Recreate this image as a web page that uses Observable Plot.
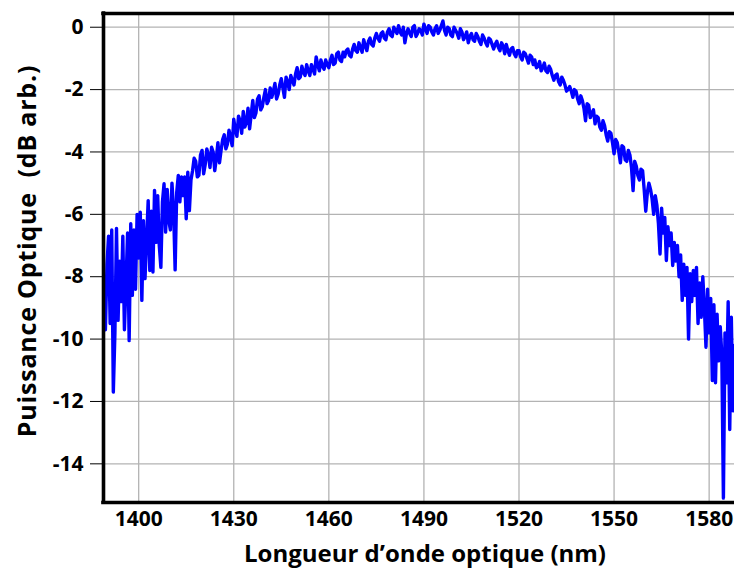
<!DOCTYPE html>
<html>
<head>
<meta charset="utf-8">
<script src="https://cdn.jsdelivr.net/npm/d3@7"></script>
<script src="https://cdn.jsdelivr.net/npm/@observablehq/plot@0.6"></script>
<style>
  html, body { margin: 0; padding: 0; background: white; overflow: hidden; }
</style>
</head>
<body>
<div id="chart"></div>
<script>
// Wavelength (nm) and optical power (dB arb.)
const wavelengths = [
  1388.0,1388.5,1389.0,1389.5,1390.0,1390.5,1391.0,1391.5,1392.0,1392.5,
  1393.0,1393.5,1394.0,1394.5,1395.0,1395.5,1396.0,1396.5,1397.0,1397.5,
  1398.0,1398.5,1399.0,1399.5,1400.0,1400.5,1401.0,1401.5,1402.0,1402.5,
  1403.0,1403.5,1404.0,1404.5,1405.0,1405.5,1406.0,1406.5,1407.0,1407.5,
  1408.0,1408.5,1409.0,1409.5,1410.0,1410.5,1411.0,1411.5,1412.0,1412.5,
  1413.0,1413.5,1414.0,1414.5,1415.0,1415.5,1416.0,1416.5,1417.0,1417.5,
  1418.0,1418.5,1419.0,1419.5,1420.0,1420.5,1421.0,1421.5,1422.0,1422.5,
  1423.0,1423.5,1424.0,1424.5,1425.0,1425.5,1426.0,1426.5,1427.0,1427.5,
  1428.0,1428.5,1429.0,1429.5,1430.0,1430.5,1431.0,1431.5,1432.0,1432.5,
  1433.0,1433.5,1434.0,1434.5,1435.0,1435.5,1436.0,1436.5,1437.0,1437.5,
  1438.0,1438.5,1439.0,1439.5,1440.0,1440.5,1441.0,1441.5,1442.0,1442.5,
  1443.0,1443.5,1444.0,1444.5,1445.0,1445.5,1446.0,1446.5,1447.0,1447.5,
  1448.0,1448.5,1449.0,1449.5,1450.0,1450.5,1451.0,1451.5,1452.0,1452.5,
  1453.0,1453.5,1454.0,1454.5,1455.0,1455.5,1456.0,1456.5,1457.0,1457.5,
  1458.0,1458.5,1459.0,1459.5,1460.0,1460.5,1461.0,1461.5,1462.0,1462.5,
  1463.0,1463.5,1464.0,1464.5,1465.0,1465.5,1466.0,1466.5,1467.0,1467.5,
  1468.0,1468.5,1469.0,1469.5,1470.0,1470.5,1471.0,1471.5,1472.0,1472.5,
  1473.0,1473.5,1474.0,1474.5,1475.0,1475.5,1476.0,1476.5,1477.0,1477.5,
  1478.0,1478.5,1479.0,1479.5,1480.0,1480.5,1481.0,1481.5,1482.0,1482.5,
  1483.0,1483.5,1484.0,1484.5,1485.0,1485.5,1486.0,1486.5,1487.0,1487.5,
  1488.0,1488.5,1489.0,1489.5,1490.0,1490.5,1491.0,1491.5,1492.0,1492.5,
  1493.0,1493.5,1494.0,1494.5,1495.0,1495.5,1496.0,1496.5,1497.0,1497.5,
  1498.0,1498.5,1499.0,1499.5,1500.0,1500.5,1501.0,1501.5,1502.0,1502.5,
  1503.0,1503.5,1504.0,1504.5,1505.0,1505.5,1506.0,1506.5,1507.0,1507.5,
  1508.0,1508.5,1509.0,1509.5,1510.0,1510.5,1511.0,1511.5,1512.0,1512.5,
  1513.0,1513.5,1514.0,1514.5,1515.0,1515.5,1516.0,1516.5,1517.0,1517.5,
  1518.0,1518.5,1519.0,1519.5,1520.0,1520.5,1521.0,1521.5,1522.0,1522.5,
  1523.0,1523.5,1524.0,1524.5,1525.0,1525.5,1526.0,1526.5,1527.0,1527.5,
  1528.0,1528.5,1529.0,1529.5,1530.0,1530.5,1531.0,1531.5,1532.0,1532.5,
  1533.0,1533.5,1534.0,1534.5,1535.0,1535.5,1536.0,1536.5,1537.0,1537.5,
  1538.0,1538.5,1539.0,1539.5,1540.0,1540.5,1541.0,1541.5,1542.0,1542.5,
  1543.0,1543.5,1544.0,1544.5,1545.0,1545.5,1546.0,1546.5,1547.0,1547.5,
  1548.0,1548.5,1549.0,1549.5,1550.0,1550.5,1551.0,1551.5,1552.0,1552.5,
  1553.0,1553.5,1554.0,1554.5,1555.0,1555.5,1556.0,1556.5,1557.0,1557.5,
  1558.0,1558.5,1559.0,1559.5,1560.0,1560.5,1561.0,1561.5,1562.0,1562.5,
  1563.0,1563.5,1564.0,1564.5,1565.0,1565.5,1566.0,1566.5,1567.0,1567.5,
  1568.0,1568.5,1569.0,1569.5,1570.0,1570.5,1571.0,1571.5,1572.0,1572.5,
  1573.0,1573.5,1574.0,1574.5,1575.0,1575.5,1576.0,1576.5,1577.0,1577.5,
  1578.0,1578.5,1579.0,1579.5,1580.0,1580.5,1581.0,1581.5,1582.0,1582.5,
  1583.0,1583.5,1584.0,1584.5,1585.0,1585.5,1586.0,1586.5,1587.0,1587.5,
  1588.0
];
const power = [
  // 1388.0 - 1416.0
  -8.3,-9.2,-8.2,-9.7,-7.6,-6.7,-9.5,-6.5,-11.7,-9.8,
  -6.45,-9.4,-7.5,-8.8,-6.7,-9.7,-8.2,-6.6,-10.05,-6.3,
  -8.6,-6.5,-8.4,-6.0,-7.4,-5.93,-8.76,-6.2,-8.06,-6.8,
  -5.56,-7.8,-5.9,-7.85,-5.23,-6.9,-5.4,-7.0,-7.7,-5.6,
  -5.02,-6.57,-5.2,-6.2,-6.5,-5.0,-5.8,-7.78,-5.3,-4.75,
  -5.6,-4.8,-5.4,-4.8,-6.14,-4.65,-5.88,
  // 1416.5 - 1564.0
  -4.9,-4.6,-4.2,-4.3,-4.8,-4.75,-4.1,-3.95,-4.7,-4.4,
  -3.9,-4.1,-4.5,-3.85,-4.0,-4.6,-4.2,-3.7,-4.35,-3.95,
  -3.6,-3.45,-3.9,-3.75,-3.3,-3.55,-3.8,-2.95,-3.3,-3.5,
  -2.85,-3.0,-3.4,-2.7,-3.2,-3.05,-2.6,-3.26,-2.8,-2.35,
  -2.9,-2.75,-2.3,-2.2,-2.65,-2.55,-2.25,-2.0,-2.45,-2.35,
  -1.95,-2.25,-2.05,-1.8,-2.3,-2.15,-1.85,-1.65,-1.95,-2.25,
  -1.6,-1.75,-2.0,-1.55,-1.7,-1.85,-1.5,-1.3,-1.65,-1.6,
  -1.25,-1.45,-1.55,-1.2,-1.4,-1.55,-1.2,-1.35,-1.5,-0.95,
  -1.2,-1.4,-1.05,-1.25,-1.35,-1.05,-1.2,-1.3,-1.05,-0.9,
  -1.2,-1.15,-0.85,-0.8,-1.05,-1.1,-0.8,-0.95,-0.75,-0.7,
  -0.9,-0.95,-0.7,-0.55,-0.75,-0.8,-0.5,-0.65,-0.8,-0.4,
  -0.6,-0.75,-0.45,-0.35,-0.55,-0.6,-0.35,-0.2,-0.35,-0.45,
  -0.2,-0.15,-0.35,-0.4,-0.15,-0.05,-0.25,-0.3,0.0,-0.1,
  -0.2,0.05,-0.15,-0.25,0.0,-0.5,-0.2,-0.05,-0.2,-0.3,
  0.0,0.05,-0.3,-0.2,-0.05,-0.1,-0.25,0.1,-0.05,-0.2,
  0.05,0.0,-0.15,-0.25,-0.05,0.05,-0.2,-0.1,0.05,0.2,
  -0.1,-0.25,0.0,-0.05,-0.25,-0.3,0.0,-0.1,-0.2,-0.35,
  -0.05,-0.15,-0.4,-0.3,-0.15,-0.5,-0.3,-0.2,-0.4,-0.45,
  -0.2,-0.3,-0.45,-0.55,-0.25,-0.35,-0.5,-0.6,-0.35,-0.4,
  -0.55,-0.7,-0.55,-0.45,-0.65,-0.75,-0.5,-0.6,-0.85,-0.55,
  -0.75,-0.9,-0.7,-0.65,-0.85,-0.95,-0.75,-0.75,-0.95,-1.05,
  -0.8,-0.85,-1.0,-1.15,-0.9,-0.95,-1.2,-1.05,-1.3,-1.25,
  -1.1,-1.4,-1.3,-1.15,-1.4,-1.45,-1.25,-1.35,-1.55,-1.7,
  -1.55,-1.5,-1.75,-1.85,-1.6,-1.7,-1.85,-2.05,-2.0,-1.9,
  -2.05,-2.25,-2.0,-2.05,-2.3,-2.45,-2.2,-2.35,-2.6,-3.0,
  -2.45,-2.5,-2.9,-2.75,-2.65,-3.1,-2.85,-2.9,-3.2,-3.3,
  -3.0,-3.15,-3.45,-3.65,-3.35,-3.4,-3.7,-4.06,-3.6,-3.7,
  -4.0,-4.35,-3.8,-3.85,-4.25,-4.3,-3.95,-4.1,-4.5,-5.24,
  -4.3,-4.45,-4.75,-4.9,-4.55,-4.6,-5.2,-5.9,-5.3,-5.0,
  -5.2,-5.5,-6.0,-5.4,-5.7,-6.3,
  // 1564.5 - 1588.0
  -7.27,-5.8,-6.6,-6.1,-7.48,-6.4,-7.0,-6.6,-7.64,-6.9,
  -7.5,-7.0,-8.0,-7.3,-8.76,-7.6,-8.6,-7.7,-10.0,-7.9,
  -8.8,-7.8,-8.6,-7.7,-9.5,-8.2,-9.3,-8.0,-9.0,-10.26,
  -8.4,-9.8,-8.7,-11.33,-8.9,-11.4,-9.2,-10.7,-9.6,-10.5,
  -15.1,-9.8,-11.4,-8.8,-12.9,-9.3,-12.3,-10.2
];
const xTicks = [1400, 1430, 1460, 1490, 1520, 1550, 1580];
const yTicks = [0, -2, -4, -6, -8, -10, -12, -14];
const xTitle = "Longueur d’onde optique (nm)";
const yTitle = "Puissance Optique  (dB arb.)";

const xDomain = [1388.9, 1588.0];
const yDomain = [-15.24, 0.44];

const rows = wavelengths.map((w, i) => ({w, p: power[i]}));

const chart = Plot.plot({
  width: 734,
  height: 569,
  marginLeft: 103,
  marginRight: 0,
  marginTop: 13,
  marginBottom: 67,
  style: {
    fontFamily: "'Open Sans', Lato, sans-serif",
    fontSize: "21px",
    fontWeight: "bold",
    color: "black",
    background: "white",
    overflow: "visible"
  },
  x: {domain: xDomain, ticks: xTicks, tickSize: 0, tickPadding: 9, label: null, tickFormat: d => String(d)},
  y: {domain: yDomain, ticks: yTicks, tickSize: 13, tickPadding: 7, label: null, tickFormat: d => String(d)},
  marks: [
    Plot.ruleX(xTicks, {stroke: "#b3b3b3", strokeWidth: 1.3}),
    Plot.ruleY(yTicks, {stroke: "#b3b3b3", strokeWidth: 1.3}),
    Plot.line(rows, {x: "w", y: "p", stroke: "#0000ff", strokeWidth: 3.4, clip: true}),
    Plot.ruleX([xDomain[0]], {stroke: "black", strokeWidth: 3.6, strokeLinecap: "square"}),
    Plot.ruleY([yDomain[0], yDomain[1]], {stroke: "black", strokeWidth: 3.6, strokeLinecap: "square"}),
    Plot.text([xTitle], {frameAnchor: "bottom", dy: 52, dx: 6, text: d => d, fontSize: 24, fontWeight: "bold", lineAnchor: "middle", textAnchor: "middle"}),
    Plot.text([yTitle], {frameAnchor: "left", dx: -76, dy: -7, rotate: -90, text: d => d, fontSize: 25, fontWeight: "bold", lineAnchor: "middle", textAnchor: "middle"})
  ]
});
d3.select(chart).selectAll("text")
  .filter(function() { return this.textContent === yTitle; })
  .style("letter-spacing", "0.8px");
document.getElementById("chart").appendChild(chart);
</script>
</body>
</html>
